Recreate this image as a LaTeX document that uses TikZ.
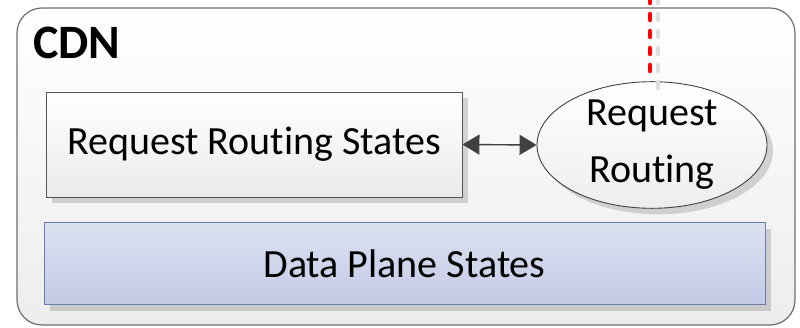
\documentclass[tikz,border=0pt]{standalone}
\usepackage{fontspec}
\setmainfont{Carlito}[Ligatures=NoCommon]
\usetikzlibrary{shapes.geometric,arrows.meta,shadows}
\definecolor{frameline}{HTML}{6E6E6E}
\definecolor{boxline}{HTML}{555555}
\definecolor{planetop}{HTML}{DCE1F1}
\definecolor{planebot}{HTML}{C3CAE5}
\definecolor{planeline}{HTML}{6A7DAE}
\definecolor{arrowgray}{HTML}{404040}
\definecolor{linkred}{HTML}{FF0000}
\tikzset{
  softshadow/.style={drop shadow={shadow xshift=6pt,shadow yshift=-6pt,fill=black,opacity=0.15}},
  statebox/.style={draw=boxline,line width=0.9pt,top color=white,bottom color=black!8,softshadow,
    font=\fontsize{40}{48}\selectfont,inner sep=0pt},
  planebox/.style={draw=planeline,line width=1pt,top color=planetop,bottom color=planebot,softshadow,
    font=\fontsize{40}{48}\selectfont,inner sep=0pt},
  routeell/.style={ellipse,draw=black!75,line width=0.9pt,top color=white,bottom color=black!7,softshadow,
    inner sep=0pt,minimum width=230pt,minimum height=122pt,align=center,
    font=\fontsize{40}{57}\selectfont},
  biarrow/.style={<->,draw=arrowgray,line width=1.4pt,>={Triangle[length=17pt,width=20pt]}},
  linkdots/.style={line width=4.5pt,line cap=round,dash pattern=on 6pt off 11pt},
}
\begin{document}
\begin{tikzpicture}[x=1pt,y=-1pt]
  \useasboundingbox (0,0) rectangle (800,328);
  % enclosing CDN frame
  \draw[frameline,line width=1.2pt,rounded corners=25pt,top color=white,bottom color=black!7]
    (17,8) rectangle (795,325);
  \node[anchor=base west,font=\bfseries\fontsize{48}{52}\selectfont,inner sep=0pt] (cdn) at (33,59) {CDN};
  % state stores
  \node[statebox,minimum width=416pt,minimum height=105pt] (rrs) at (254,144.5) {Request Routing States};
  \node[planebox,minimum width=721pt,minimum height=82pt] (dps) at (404.5,264) {Data Plane States};
  % request routing component
  \node[routeell] (rr) at (652,145) {Request\\Routing};
  \draw[biarrow] (rrs.east) -- (rr.west);
  % external link from above, with its shadow
  \coordinate (top) at (650,-3);
  \draw[linkdots,black!13] (658,-3) -- (658,92);
  \draw[linkdots,linkred] (top) -- (top |- rr.north);
\end{tikzpicture}
\end{document}
